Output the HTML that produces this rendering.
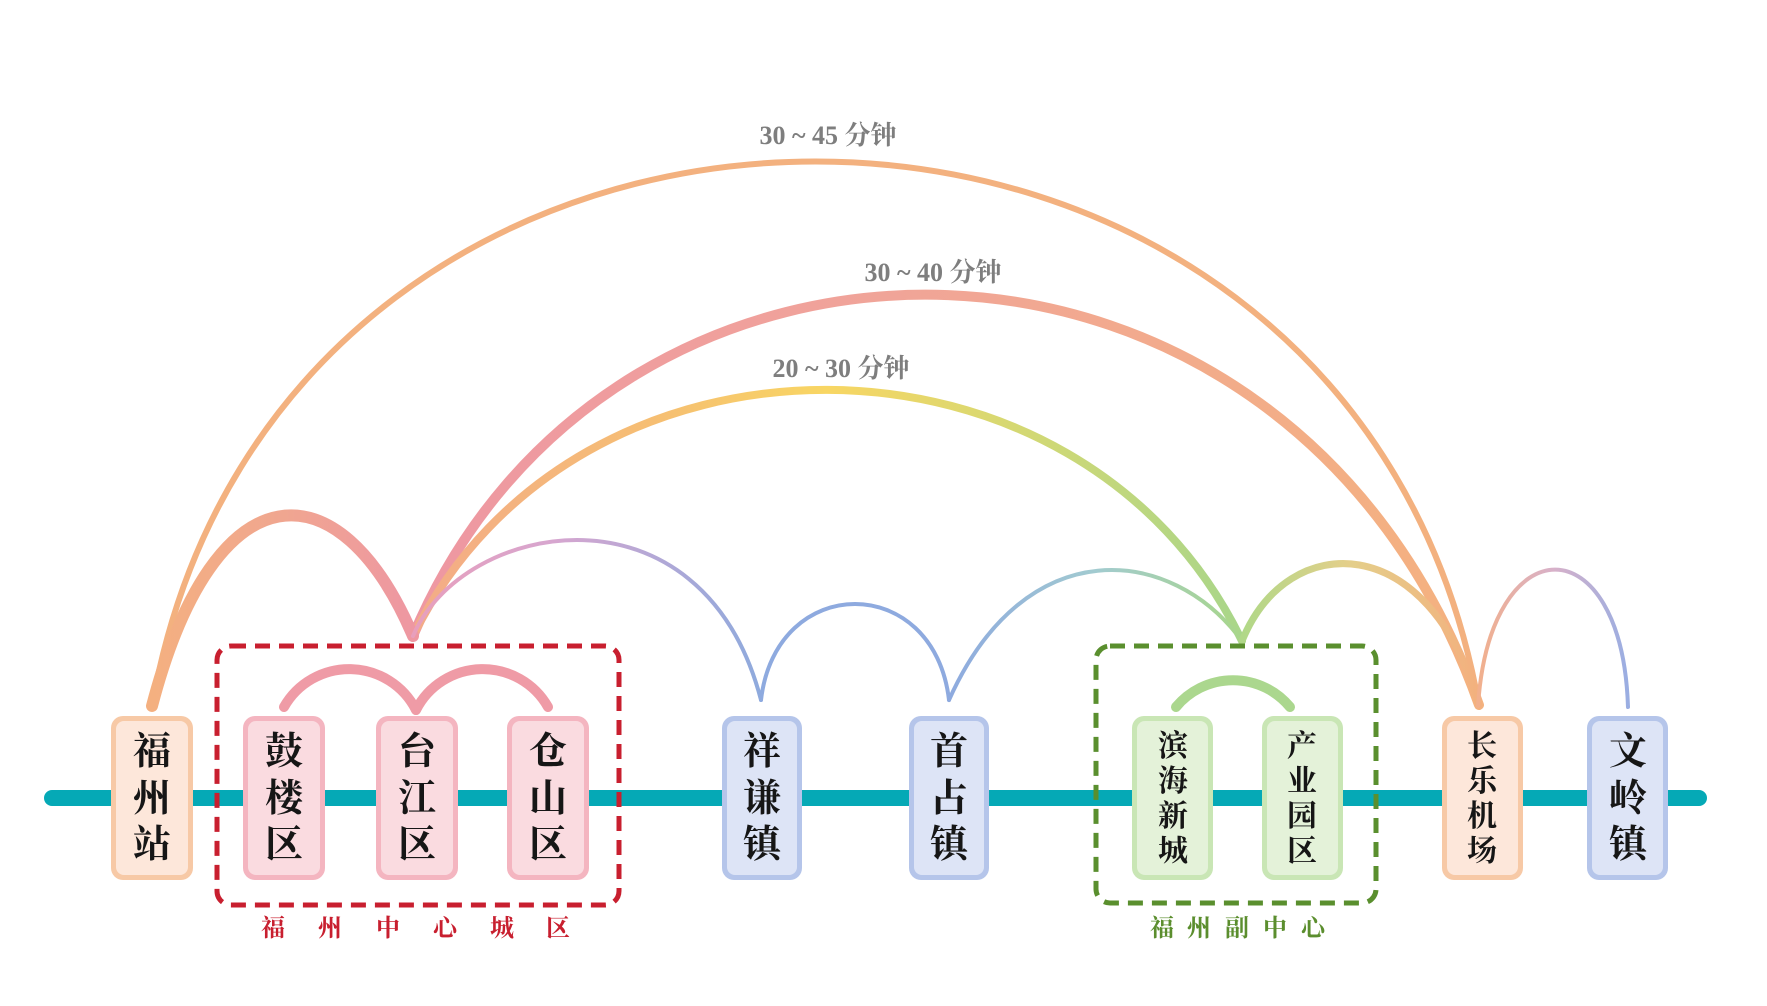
<!DOCTYPE html>
<html>
<head>
<meta charset="utf-8">
<style>
  html,body{margin:0;padding:0;background:#fff;}
  svg{display:block;}
  .box{font-family:"Liberation Serif","Noto Serif CJK SC",serif;font-weight:700;fill:#161616;text-anchor:middle;}
  .lbl{font-family:"Liberation Serif","Noto Serif CJK SC",serif;font-weight:700;fill:#7e7e7e;text-anchor:middle;font-size:26px;}
  .grp{font-family:"Liberation Serif","Noto Serif CJK SC",serif;font-weight:700;text-anchor:middle;font-size:24px;}
</style>
</head>
<body>
<svg width="1767" height="1006" viewBox="0 0 1767 1006" xmlns="http://www.w3.org/2000/svg">
  <defs>
    <linearGradient id="g3040" gradientUnits="userSpaceOnUse" x1="413" y1="0" x2="1479" y2="0">
      <stop offset="0" stop-color="#ee97a2"/>
      <stop offset="0.4" stop-color="#f0a39a"/>
      <stop offset="1" stop-color="#f4b27f"/>
    </linearGradient>
    <linearGradient id="g2030" gradientUnits="userSpaceOnUse" x1="413" y1="0" x2="1242" y2="0">
      <stop offset="0" stop-color="#f3ab88"/>
      <stop offset="0.3" stop-color="#f6bf72"/>
      <stop offset="0.5" stop-color="#f8d663"/>
      <stop offset="0.72" stop-color="#d6d872"/>
      <stop offset="1" stop-color="#a8d68a"/>
    </linearGradient>
    <linearGradient id="gFz" gradientUnits="userSpaceOnUse" x1="152" y1="0" x2="413" y2="0">
      <stop offset="0" stop-color="#f4b080"/>
      <stop offset="0.5" stop-color="#f0a690"/>
      <stop offset="1" stop-color="#ee97a2"/>
    </linearGradient>
    <linearGradient id="gTx" gradientUnits="userSpaceOnUse" x1="413" y1="0" x2="761" y2="0">
      <stop offset="0" stop-color="#e89fbc"/>
      <stop offset="0.4" stop-color="#d7a6cf"/>
      <stop offset="1" stop-color="#8eaadd"/>
    </linearGradient>
    <linearGradient id="gSg" gradientUnits="userSpaceOnUse" x1="949" y1="0" x2="1242" y2="0">
      <stop offset="0" stop-color="#8eaadf"/>
      <stop offset="0.5" stop-color="#a2cbd0"/>
      <stop offset="1" stop-color="#a8d68a"/>
    </linearGradient>
    <linearGradient id="gGc" gradientUnits="userSpaceOnUse" x1="1242" y1="0" x2="1479" y2="0">
      <stop offset="0" stop-color="#b0d888"/>
      <stop offset="0.45" stop-color="#e4cf8a"/>
      <stop offset="1" stop-color="#f3b07e"/>
    </linearGradient>
    <linearGradient id="gCw" gradientUnits="userSpaceOnUse" x1="1478" y1="0" x2="1628" y2="0">
      <stop offset="0" stop-color="#f2b08c"/>
      <stop offset="0.5" stop-color="#d8b1c9"/>
      <stop offset="1" stop-color="#9aaee2"/>
    </linearGradient>
  </defs>

  <!-- teal line -->
  <line x1="52" y1="798" x2="1699" y2="798" stroke="#05a9b6" stroke-width="16" stroke-linecap="round"/>

  <!-- arcs -->
  <g fill="none" stroke-linecap="round">
    <path d="M152,706 C280,-20 1351,-20 1479,706" stroke="#f3b17f" stroke-width="6"/>
    <path d="M413,636 C609,170 1289,170 1479,705" stroke="url(#g3040)" stroke-width="10"/>
    <path d="M413,636 C575,307 1080,307 1242,641" stroke="url(#g2030)" stroke-width="8"/>
    <path d="M152,706 C215,465 340,465 413,636" stroke="url(#gFz)" stroke-width="12"/>
    <path d="M413,636 C462,520 702,475 761,700" stroke="url(#gTx)" stroke-width="4"/>
    <path d="M761,700 C776,572 934,572 949,700" stroke="#8eaadf" stroke-width="4"/>
    <path d="M949,700 C1025,530 1172,545 1242,641" stroke="url(#gSg)" stroke-width="4"/>
    <path d="M1242,641 C1288,528 1430,530 1479,705" stroke="url(#gGc)" stroke-width="7"/>
    <path d="M1478,706 C1490,524 1622,524 1628,707" stroke="url(#gCw)" stroke-width="4"/>
    <!-- inner arcs -->
    <path d="M284,707 A75,75 0 0 1 416,710" stroke="#ef9ba6" stroke-width="10"/>
    <path d="M416,710 A75,75 0 0 1 548,707" stroke="#ef9ba6" stroke-width="10"/>
    <path d="M1176,707 A74,74 0 0 1 1290,707" stroke="#abd78e" stroke-width="10"/>
  </g>

  <!-- boxes -->
  <g>
    <rect x="111" y="716" width="82" height="164" rx="12" fill="#f7c9a6"/>
    <rect x="116" y="721" width="72" height="154" rx="8" fill="#fde7da"/>
    <rect x="1442" y="716" width="81" height="164" rx="12" fill="#f7c9a6"/>
    <rect x="1447" y="721" width="71" height="154" rx="8" fill="#fde7da"/>
    <rect x="243" y="716" width="82" height="164" rx="12" fill="#f4b5c0"/>
    <rect x="248" y="721" width="72" height="154" rx="8" fill="#fadbe0"/>
    <rect x="376" y="716" width="82" height="164" rx="12" fill="#f4b5c0"/>
    <rect x="381" y="721" width="72" height="154" rx="8" fill="#fadbe0"/>
    <rect x="507" y="716" width="82" height="164" rx="12" fill="#f4b5c0"/>
    <rect x="512" y="721" width="72" height="154" rx="8" fill="#fadbe0"/>
    <rect x="722" y="716" width="80" height="164" rx="12" fill="#b5c5ea"/>
    <rect x="727" y="721" width="70" height="154" rx="8" fill="#dde4f6"/>
    <rect x="909" y="716" width="80" height="164" rx="12" fill="#b5c5ea"/>
    <rect x="914" y="721" width="70" height="154" rx="8" fill="#dde4f6"/>
    <rect x="1587" y="716" width="81" height="164" rx="12" fill="#b5c5ea"/>
    <rect x="1592" y="721" width="71" height="154" rx="8" fill="#dde4f6"/>
    <rect x="1132" y="716" width="81" height="164" rx="12" fill="#c9e6b5"/>
    <rect x="1137" y="721" width="71" height="154" rx="8" fill="#e4f2d9"/>
    <rect x="1262" y="716" width="81" height="164" rx="12" fill="#c9e6b5"/>
    <rect x="1267" y="721" width="71" height="154" rx="8" fill="#e4f2d9"/>
  </g>

  <!-- dashed group boxes -->
  <rect x="217" y="646" width="402" height="259" rx="14" fill="none" stroke="#c81f2f" stroke-width="5" stroke-dasharray="15 9"/>
  <rect x="1096" y="646" width="280" height="257" rx="14" fill="none" stroke="#5a8f2e" stroke-width="5" stroke-dasharray="15 9"/>

  <!-- box text 3-char -->
  <g class="box" font-size="38">
    <text x="152" y="764">福</text><text x="152" y="811">州</text><text x="152" y="857">站</text>
    <text x="284" y="764">鼓</text><text x="284" y="811">楼</text><text x="284" y="857">区</text>
    <text x="417" y="764">台</text><text x="417" y="811">江</text><text x="417" y="857">区</text>
    <text x="548" y="764">仓</text><text x="548" y="811">山</text><text x="548" y="857">区</text>
    <text x="762" y="764">祥</text><text x="762" y="811">谦</text><text x="762" y="857">镇</text>
    <text x="949" y="764">首</text><text x="949" y="811">占</text><text x="949" y="857">镇</text>
    <text x="1628" y="764">文</text><text x="1628" y="811">岭</text><text x="1628" y="857">镇</text>
  </g>
  <!-- box text 4-char -->
  <g class="box" font-size="30">
    <text x="1173" y="756">滨</text><text x="1173" y="791">海</text><text x="1173" y="826">新</text><text x="1173" y="861">城</text>
    <text x="1302" y="756">产</text><text x="1302" y="791">业</text><text x="1302" y="826">园</text><text x="1302" y="861">区</text>
    <text x="1482" y="756">长</text><text x="1482" y="791">乐</text><text x="1482" y="826">机</text><text x="1482" y="861">场</text>
  </g>

  <!-- group labels -->
  <g class="grp" fill="#c81f2f">
    <text x="273" y="936">福</text><text x="330" y="936">州</text><text x="388" y="936">中</text>
    <text x="445" y="936">心</text><text x="502" y="936">城</text><text x="558" y="936">区</text>
  </g>
  <g class="grp" fill="#5b8e2e">
    <text x="1162" y="936">福</text><text x="1199" y="936">州</text><text x="1237" y="936">副</text>
    <text x="1275" y="936">中</text><text x="1313" y="936">心</text>
  </g>

  <!-- time labels -->
  <text class="lbl" x="828" y="144">30 ~ 45 分钟</text>
  <text class="lbl" x="933" y="281">30 ~ 40 分钟</text>
  <text class="lbl" x="841" y="377">20 ~ 30 分钟</text>
</svg>
</body>
</html>
